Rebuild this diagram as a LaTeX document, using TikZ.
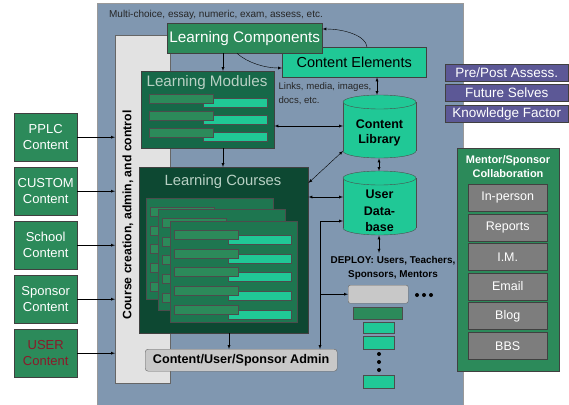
\documentclass[tikz,border=0pt]{standalone}
\usepackage{fontspec}
\setmainfont{Liberation Sans}
\usetikzlibrary{shapes,arrows}

\definecolor{panel}{RGB}{128,151,176}
\definecolor{ctrlgray}{RGB}{226,226,226}
\definecolor{midgreen}{RGB}{44,138,90}
\definecolor{brightgreen}{RGB}{32,200,150}
\definecolor{modgreen}{RGB}{22,104,72}
\definecolor{coursegreen}{RGB}{13,72,50}
\definecolor{cardgreen}{RGB}{30,118,80}
\definecolor{titletext}{RGB}{184,208,196}
\definecolor{assess}{RGB}{92,88,150}
\definecolor{itemgray}{RGB}{125,125,125}
\definecolor{admingray}{RGB}{200,200,200}
\definecolor{userred}{RGB}{139,26,42}

\begin{document}
\begin{tikzpicture}[x=1pt, y=-1pt, >=latex,
	box/.style={draw=black!75, anchor=north west, inner sep=0pt},
	src/.style={box, fill=midgreen, minimum width=63, minimum height=48, align=center, text=white, font=\fontsize{13}{16}\selectfont},
	item/.style={box, fill=itemgray, minimum width=79, minimum height=27, text=white, font=\fontsize{12.5}{14}\selectfont},
	extra/.style={box, fill=assess, minimum width=123, minimum height=17, text=white, font=\fontsize{13.5}{15}\selectfont},
	bar/.style={draw=black!70, fill=midgreen},
	hibar/.style={draw=black!70, fill=brightgreen},
	note/.style={text=black!85, font=\fontsize{9.6}{14}\selectfont}]
\useasboundingbox (0,0) rectangle (569,404);

% background
\fill[panel, draw=black!40] (97,3) rectangle (463,405);
\node[note, font=\fontsize{10}{12}\selectfont] (types) at (216,15) {Multi-choice, essay, numeric, exam, assess, etc.};

% course creation strip
\node[box, fill=ctrlgray, draw=black!60, minimum width=55, minimum height=348] (ctrl) at (115,35) {};
\node[rotate=90, font=\bfseries\fontsize{12.2}{14}\selectfont] (ctrltext) at (128,215) {Course creation, admin, and control};

% components and elements
\node[box, fill=brightgreen, minimum width=144, minimum height=30, font=\fontsize{14.5}{16}\selectfont] (elem) at (282,47) {Content Elements};
\node[box, fill=midgreen, minimum width=155, minimum height=30, text=white, font=\fontsize{15.3}{17}\selectfont] (comp) at (167,23) {Learning Components};
\node[note, anchor=north west, align=left] (links) at (275,79) {Links, media, images,\\docs, etc.};

% learning modules
\node[box, fill=modgreen, minimum width=133, minimum height=77] (modules) at (141,71) {};
\node[text=titletext, font=\fontsize{15.2}{17}\selectfont] (modtitle) at (207,83) {Learning Modules};
\foreach \y in {94,111,128} {
	\draw[hibar] (203,{\y+4}) rectangle (267,{\y+13});
	\draw[bar] (149,\y) rectangle (213,{\y+9});
}

% learning courses
\node[box, fill=coursegreen, minimum width=169, minimum height=166] (courses) at (139,167) {};
\node[text=titletext, font=\fontsize{14.8}{17}\selectfont] (coutitle) at (223,182) {Learning Courses};
\foreach \x/\y in {146/198, 158/209, 170/221} {
	\draw[draw=black!70, fill=cardgreen] (\x,\y) rectangle ({\x+127},{\y+101});
	\foreach \k in {0,...,4} {
		\draw[hibar] ({\x+58},{\y+14+\k*18.7}) rectangle ({\x+121},{\y+23+\k*18.7});
		\draw[bar] ({\x+4},{\y+9+\k*18.7}) rectangle ({\x+68},{\y+18+\k*18.7});
	}
}

% admin
\node[box, fill=admingray, draw=black!60, rounded corners=3, minimum width=192, minimum height=22, font=\bfseries\fontsize{12.6}{14}\selectfont] (admin) at (145,349) {Content/User/Sponsor Admin};

% content library
\fill[brightgreen, draw=black!70] (379.5,151) ellipse [x radius=36.5, y radius=7];
\fill[brightgreen] (343,102) rectangle (416,151);
\draw[black!70] (343,102) -- (343,151) (416,102) -- (416,151);
\fill[brightgreen, draw=black!70] (379.5,102) ellipse [x radius=36.5, y radius=7];
\node[box, draw=none, minimum width=73, minimum height=63] (lib) at (343,95) {};
\node[align=center, font=\bfseries\fontsize{12.5}{15}\selectfont] (libtext) at (379.5,133) {Content\\Library};

% user database
\fill[brightgreen, draw=black!70] (379.5,228) ellipse [x radius=36.5, y radius=7];
\fill[brightgreen] (343,178) rectangle (416,228);
\draw[black!70] (343,178) -- (343,228) (416,178) -- (416,228);
\fill[brightgreen, draw=black!70] (379.5,178) ellipse [x radius=36.5, y radius=7];
\node[box, draw=none, minimum width=73, minimum height=64] (udb) at (343,171) {};
\node[align=center, font=\bfseries\fontsize{12.5}{16.5}\selectfont] (udbtext) at (379.5,211) {User\\Data-\\base};

% deployment
\node[align=center, font=\bfseries\fontsize{9.9}{14}\selectfont] (deploy) at (393,268) {DEPLOY: Users, Teachers,\\Sponsors, Mentors};
\node[box, fill=admingray, draw=black!60, rounded corners=2, minimum width=60, minimum height=18] (dbox) at (348,285) {};
\foreach \x in {417,424,431} \fill (\x,295) circle (2);
\draw[bar] (353,307) rectangle (402,319);
\draw[hibar] (363,322) rectangle (394,333);
\draw[hibar] (363,336) rectangle (394,349);
\foreach \y in {354,362,370} \fill (379,\y) circle (2);
\draw[hibar] (363,375) rectangle (394,388);

% mentor / sponsor collaboration
\node[box, fill=midgreen, minimum width=102, minimum height=223] (ment) at (457,148) {};
\node[align=center, text=white, font=\bfseries\fontsize{11}{14}\selectfont] (menttitle) at (508,167) {Mentor/Sponsor\\Collaboration};
\foreach \t [count=\i] in {In-person, Reports, I.M., Email, Blog, BBS}
	\node[item] (m\i) at (468,{184+(\i-1)*29.6}) {\t};

% assessments
\node[extra] (pre) at (445,64) {Pre/Post Assess.};
\node[extra] (future) at (445,84) {Future Selves};
\node[extra] (know) at (445,105) {Knowledge Factor};

% content sources
\node[src] (pplc) at (14,113) {PPLC\\Content};
\node[src] (custom) at (14,167) {CUSTOM\\Content};
\node[src] (school) at (14,221) {School\\Content};
\node[src] (sponsor) at (14,275) {Sponsor\\Content};
\node[src, text=userred] (user) at (14,329) {USER\\Content};
\foreach \n in {pplc,custom,school,sponsor,user}
	\draw[->] (\n.east) -- (ctrl.west |- \n.east);

% connectors
\draw[->] (367,0 |- elem.north) .. controls (366,36) and (345,29) .. (comp.east |- 0,29);
\draw[->] (237,0 |- comp.south) .. controls (248,63) and (265,68) .. (elem.west |- 0,68);
\draw[->] (223,0 |- comp.south) -- (223,0 |- modules.north);
\draw[->] (223,0 |- modules.south) -- (223,0 |- courses.north);
\draw[->] (229,0 |- courses.south) -- (229,0 |- admin.north);
\draw[<->] (377,0 |- elem.south) -- (377,0 |- lib.north);
\draw[<->] (modules.east |- 0,126) -- (lib.west |- 0,126);
\draw[<->] (courses.east |- 0,183) -- (lib.west |- 0,151);
\draw[<->] (courses.east |- 0,197) -- (udb.west |- 0,197);
\draw[<->] (379,0 |- lib.south) -- (379,0 |- udb.north);
\draw[<->] (379,0 |- udb.south) -- (379,0 |- deploy.north);
\draw[<->] (udb.west |- 0,221) -| (320,0 |- admin.north);
\draw[->] (320,0 |- dbox.west) -- (dbox.west);
\end{tikzpicture}
\end{document}
